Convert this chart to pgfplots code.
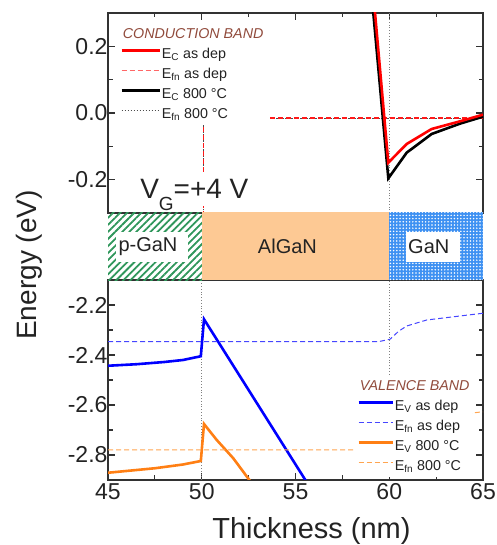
\documentclass[border=0pt]{standalone}
\usepackage{pgfplots}
\pgfplotsset{compat=1.18}
\usepackage{fontspec}
\setmainfont{Liberation Sans}
\usetikzlibrary{patterns,patterns.meta}
\definecolor{cbrown}{RGB}{145,75,60}
\definecolor{pgreen}{RGB}{46,150,90}
\definecolor{algan}{RGB}{253,201,148}
\definecolor{gan}{RGB}{62,145,242}
\definecolor{ora}{RGB}{255,127,20}
\definecolor{oral}{RGB}{255,165,80}
\definecolor{bl}{RGB}{0,0,255}
\definecolor{bll}{RGB}{70,70,255}
\definecolor{frm}{RGB}{50,50,50}
\definecolor{txt}{RGB}{35,35,35}
\pgfplotsset{
  panel/.style={scale only axis, width=375pt, xmin=45, xmax=65,
    tick align=inside, axis line style={frm, line width=1.1pt},
    tick style={frm, line width=1.1pt},
    major tick length=7pt, minor tick length=4.5pt,
    xtick={45,50,...,65}, minor x tick num=1, minor y tick num=1,
    ytick pos=both,
    tick label style={font=\fontsize{23}{26}\selectfont, text=txt},
    /pgf/number format/assume math mode=true,
    yticklabel style={/pgf/number format/fixed,/pgf/number format/fixed zerofill,/pgf/number format/precision=1, xshift=3pt},
    legend cell align=left,
    legend style={font=\fontsize{14.3}{16}\selectfont, text=txt, draw=none, fill=white,
      inner sep=2pt, row sep=3pt, column sep=0pt, anchor=north west,
      nodes={inner sep=1pt, text height=11pt, text depth=4pt}},
  },
  efnA/.style={red!90, line width=1.2pt, dash pattern=on 5pt off 3pt},
  efnB/.style={black!70, line width=0.9pt, dash pattern=on 1.5pt off 1.5pt},
}
\begin{document}
\begin{tikzpicture}
\useasboundingbox (0,0) rectangle (496pt,545pt);
% ---------------- bottom panel: valence band
\begin{axis}[panel, at={(108pt,65pt)}, anchor=south west, height=200pt,
  ymin=-2.9, ymax=-2.1, ytick={-2.8,-2.6,-2.4,-2.2}, xtick pos=left,
  legend image code/.code={\draw[#1] (0pt,4pt) -- (34pt,4pt);},
  legend style={at={(0.6587,0.52)}}]
\addlegendimage{empty legend}
\addlegendentry{\hspace*{-35pt}\textcolor{cbrown}{\itshape VALENCE BAND}}
\addplot[forget plot, gray, dotted, line width=0.8pt] coordinates {(50,-2.9) (50,-2.1)};
\addplot[forget plot, gray, dotted, line width=0.8pt] coordinates {(60,-2.5) (60,-2.1)};
\addplot[bl, line width=2.6pt] coordinates {(45,-2.443) (46.5,-2.437) (48,-2.428) (49,-2.42) (49.95,-2.405) (50.12,-2.257) (55.92,-2.947)};
\addlegendentry{E\textsubscript{V} as dep}
\addplot[bll, line width=1pt, dash pattern=on 5pt off 3pt] coordinates {(45,-2.347) (59.4,-2.347) (60.04,-2.337) (60.5,-2.305) (60.93,-2.284) (62,-2.26) (63.77,-2.244) (65,-2.233)};
\addlegendentry{E\textsubscript{fn} as dep}
\addplot[ora, line width=2.6pt] coordinates {(45,-2.871) (47.5,-2.853) (49,-2.838) (49.95,-2.824) (50.12,-2.676) (50.8,-2.74) (51.68,-2.813) (52.54,-2.9) (52.6,-2.91)};
\addlegendentry{E\textsubscript{V} 800 °C}
\addplot[oral, line width=1pt, dash pattern=on 5pt off 3pt] coordinates {(45,-2.78) (59.5,-2.78) (60.2,-2.76) (61,-2.71) (62,-2.67) (63.5,-2.64) (65,-2.627)};
\addlegendentry{E\textsubscript{fn} 800 °C}
\end{axis}
% ---------------- top panel: conduction band
\begin{axis}[panel, at={(108pt,332pt)}, anchor=south west, height=200pt,
  ymin=-0.3, ymax=0.3, ytick={-0.2,0,0.2}, xtick pos=right, xticklabels={},
  legend image code/.code={\draw[#1] (0pt,4pt) -- (38pt,4pt);},
  legend style={at={(0.0267,0.945)}}]
\addlegendimage{empty legend}
\addlegendentry{\hspace*{-39pt}\textcolor{cbrown}{\itshape CONDUCTION BAND}}
\addlegendimage{red, line width=2.6pt}
\addlegendentry{E\textsubscript{C} as dep}
\addlegendimage{red!60, line width=1pt, dash pattern=on 5pt off 3pt}
\addlegendentry{E\textsubscript{fn} as dep}
\addlegendimage{black, line width=2.6pt}
\addlegendentry{E\textsubscript{C} 800 °C}
\addlegendimage{efnB}
\addlegendentry{E\textsubscript{fn} 800 °C}
\addplot[forget plot, gray, dotted, line width=0.8pt] coordinates {(60,-0.3) (60,0.3)};
% E_fn 800 C (drawn underneath)
\addplot[forget plot, efnB] coordinates {(53.65,-0.015) (65,-0.015)};
\addplot[forget plot, efnB] coordinates {(50.08,-0.176) (50.08,-0.035)};
\addplot[forget plot, efnB] coordinates {(50.08,-0.31) (50.08,-0.28)};
% E_fn as dep
\addplot[forget plot, efnA] coordinates {(53.65,-0.015) (65,-0.015)};
\addplot[forget plot, efnA] coordinates {(50.08,-0.176) (50.08,-0.035)};
\addplot[forget plot, efnA] coordinates {(50.08,-0.31) (50.08,-0.28)};
% E_C 800 C
\addplot[forget plot, black, line width=2.6pt] coordinates {(58.5,0.703) (59.95,-0.196) (60.93,-0.119) (62.26,-0.063) (63.77,-0.032) (65,-0.011)};
% E_C as dep
\addplot[forget plot, red, line width=2.6pt] coordinates {(58.5,0.769) (59.95,-0.149) (60.93,-0.093) (62.26,-0.048) (63.77,-0.025) (65,-0.005)};
\node[anchor=base west, inner sep=0pt, text=txt, font=\fontsize{28}{30}\selectfont] at (axis cs:46.71,-0.256) {V\raisebox{-12pt}{\fontsize{19}{20}\selectfont G}=+4 V};
\end{axis}
% ---------------- layer strip
\begin{axis}[scale only axis, at={(108pt,264.5pt)}, anchor=south west, width=375pt, height=68pt,
  xmin=45, xmax=65, ymin=0, ymax=1, hide axis]
\addplot[draw=none, pattern={Lines[angle=45,distance=5pt,line width=1.8pt]}, pattern color=pgreen] coordinates {(45,1) (50,1)} \closedcycle;
\addplot[draw=none, fill=algan] coordinates {(50,1) (60,1)} \closedcycle;
\addplot[draw=none, fill=gan, postaction={pattern={Dots[distance=3.2pt,radius=0.85pt]}, pattern color=white}] coordinates {(60,1) (65,1)} \closedcycle;
\addplot[draw=none, fill=white] coordinates {(45.45,0.276) (45.45,0.718) (49.27,0.718) (49.27,0.276)} -- cycle;
\addplot[draw=none, fill=white] coordinates {(60.89,0.276) (60.89,0.718) (63.77,0.718) (63.77,0.276)} -- cycle;
\node[anchor=west, inner sep=0pt, text=txt, font=\fontsize{20}{22}\selectfont] at (axis cs:45.55,0.5) {p-GaN};
\node[inner sep=0pt, text=txt, font=\fontsize{20}{22}\selectfont] at (axis cs:54.57,0.5) {AlGaN};
\node[anchor=west, inner sep=0pt, text=txt, font=\fontsize{20}{22}\selectfont] at (axis cs:61.0,0.5) {GaN};
\end{axis}
% ---------------- axis titles
\node[anchor=base, rotate=90, text=txt, font=\fontsize{28}{30}\selectfont] at (36pt,280pt) {Energy (eV)};
\node[anchor=base, text=txt, font=\fontsize{29}{31}\selectfont] at (311.5pt,6pt) {Thickness (nm)};
\end{tikzpicture}
\end{document}
